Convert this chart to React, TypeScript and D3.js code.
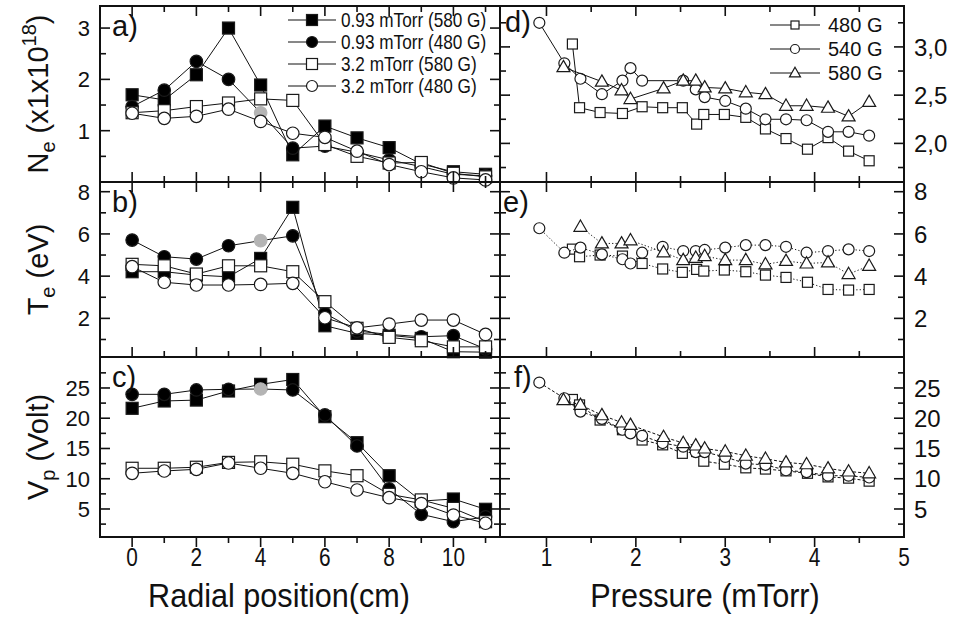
import React from "react";
import * as d3 from "d3";

// ---------------- DATA: left column (radial profiles) ----------------
const radialPositions = [0, 1, 2, 3, 4, 5, 6, 7, 8, 9, 10, 11];
const leftSeriesLabels = ["0.93 mTorr (580 G)", "0.93 mTorr (480 G)", "3.2 mTorr (580 G)", "3.2 mTorr (480 G)"];

// a) electron density (x1e18)
const neLow580 = [1.7, 1.6, 2.09, 3.0, 1.89, 0.53, 1.09, 0.86, 0.67, 0.35, 0.2, 0.15];
const neLow480 = [1.47, 1.79, 2.35, 2.0, 1.35, 0.66, 0.7, 0.58, 0.43, 0.3, 0.15, 0.12];
const neHigh580 = [1.35, 1.39, 1.47, 1.54, 1.62, 1.59, 0.73, 0.5, 0.37, 0.38, 0.17, 0.1];
const neHigh480 = [1.34, 1.24, 1.28, 1.42, 1.18, 0.95, 0.87, 0.6, 0.34, 0.2, 0.08, 0.04];

// b) electron temperature (eV)
const teLow580 = [4.21, 4.21, 4.05, 3.97, 4.84, 7.26, 1.65, 1.29, 1.2, 1.05, 0.42, 0.4];
const teLow480 = [5.71, 4.92, 4.81, 5.44, 5.68, 5.91, 2.24, 1.4, 1.24, 1.13, 1.18, 0.55];
const teHigh580 = [4.56, 4.49, 4.1, 4.49, 4.49, 4.21, 2.79, 1.53, 1.1, 0.94, 0.65, 0.65];
const teHigh480 = [4.45, 3.71, 3.58, 3.58, 3.61, 3.66, 2.03, 1.55, 1.73, 1.92, 1.92, 1.24];

// c) plasma potential (V)
const vpLow580 = [21.64, 22.85, 23.0, 24.5, 25.6, 26.4, 20.26, 15.96, 10.5, 6.3, 6.65, 4.95];
const vpLow480 = [23.95, 23.95, 24.67, 24.78, 24.83, 24.67, 20.54, 15.41, 8.31, 4.12, 2.9, 3.7];
const vpHigh580 = [11.73, 11.73, 11.9, 12.7, 12.8, 12.4, 11.3, 10.5, 7.43, 6.5, 5.1, 2.9];
const vpHigh480 = [10.9, 11.28, 11.56, 12.6, 11.73, 10.9, 9.5, 8.14, 6.87, 5.9, 4.0, 2.64];

// point drawn in grey (series index 1, radial index 4)
const greySeries = 1;
const greyIndex = 4;

// ---------------- DATA: right column (pressure scans) ----------------
const rightSeriesLabels = ["480 G", "540 G", "580 G"];
const pressure480 = [1.29, 1.37, 1.6, 1.85, 2.07, 2.3, 2.52, 2.68, 2.76, 2.99, 3.23, 3.45, 3.68, 3.92, 4.15, 4.38, 4.61];
const pressure540 = [0.92, 1.2, 1.38, 1.62, 1.85, 1.94, 2.07, 2.3, 2.53, 2.67, 2.77, 3.0, 3.23, 3.45, 3.68, 3.91, 4.15, 4.38, 4.61];
const pressure580 = [1.19, 1.38, 1.62, 1.84, 1.94, 2.31, 2.53, 2.67, 2.77, 3.0, 3.23, 3.45, 3.68, 3.91, 4.15, 4.38, 4.61];

// d) density
const nePr480 = [3.03, 2.37, 2.32, 2.31, 2.38, 2.37, 2.37, 2.2, 2.3, 2.3, 2.27, 2.15, 2.05, 1.94, 2.06, 1.92, 1.82];
const nePr540 = [3.25, 2.83, 2.67, 2.51, 2.65, 2.78, 2.65, null, 2.65, 2.56, 2.48, 2.44, 2.36, 2.25, 2.25, 2.24, 2.12, 2.12, 2.08];
const nePr580 = [2.79, null, 2.64, 2.55, 2.46, 2.57, 2.65, 2.65, 2.58, 2.57, 2.53, 2.51, 2.39, 2.39, 2.37, 2.28, 2.43];

// e) temperature
const tePr480 = [5.28, 4.92, 5.0, 4.95, 4.6, 4.34, 4.18, 4.32, 4.24, 4.29, 4.21, 4.05, 3.94, 3.71, 3.37, 3.34, 3.37];
const tePr540 = [6.27, 5.11, 5.35, 5.03, 4.8, 4.6, 5.11, 5.39, 5.19, 5.19, 5.24, 5.35, 5.47, 5.47, 5.39, 5.11, 5.19, 5.27, 5.19];
const tePr580 = [null, 6.34, 5.55, 5.55, 5.7, 5.13, 4.76, 4.87, 4.95, 4.76, 4.76, 4.56, 4.72, 4.6, 4.65, 4.1, 4.49];

// f) potential
const vpPr480 = [23.1, 22.2, 19.7, 18.1, 16.4, 15.6, 14.2, 14.5, 12.9, 12.4, 11.8, 11.6, 11.3, 10.9, 10.3, 10.1, 9.6];
const vpPr540 = [25.9, 23.3, 21.1, 19.9, 18.1, 17.5, 17.1, 15.9, 15.3, 14.4, 14.4, 13.6, 12.5, 12.3, 11.4, 11.1, 10.5, 10.5, 10.2];
const vpPr580 = [23.0, 22.2, 20.5, 19.3, 18.9, 16.9, 15.9, 15.5, 15.0, 14.5, 13.8, 13.3, 12.7, 12.4, 11.7, 11.2, 10.9];

// tick labels
const radialTickLabels = [0, 2, 4, 6, 8, 10];
const pressureTickLabels = [1, 2, 3, 4, 5];
const neTicks = [1, 2, 3];
const neRightTicks = [2.0, 2.5, 3.0];
const teTicks = [2, 4, 6, 8];
const vpTicks = [5, 10, 15, 20, 25];

// ---------------- LAYOUT ----------------
const W = 955;
const H = 618;
const FONT = "'Liberation Sans', Arial, Helvetica, sans-serif";
const LX0 = 100, MX = 500, RX1 = 904;
const ROWS: [number, number][] = [[6, 182], [182, 357], [357, 537]];

const xL = d3.scaleLinear().domain([-1, 11.45]).range([LX0, MX]);
const xR = d3.scaleLinear().domain([0.48, 5]).range([MX, RX1]);
const yA = d3.scaleLinear().domain([0, 3.43]).range([ROWS[0][1], ROWS[0][0]]);
const yD = d3.scaleLinear().domain([1.6, 3.424]).range([ROWS[0][1], ROWS[0][0]]);
const yB = d3.scaleLinear().domain([0.17, 8.46]).range([ROWS[1][1], ROWS[1][0]]);
const yC = d3.scaleLinear().domain([0.37, 30.12]).range([ROWS[2][1], ROWS[2][0]]);

type Shape = "square" | "circle" | "triangle";

function Marker({ shape, x, y, size, fill, stroke }: { shape: Shape; x: number; y: number; size: number; fill: string; stroke: string }) {
  if (shape === "square") {
    return <rect x={x - size / 2} y={y - size / 2} width={size} height={size} fill={fill} stroke={stroke} strokeWidth={1.2} />;
  }
  if (shape === "circle") {
    return <circle cx={x} cy={y} r={size / 2} fill={fill} stroke={stroke} strokeWidth={1.2} />;
  }
  const h = size * 0.87;
  const p = d3.path();
  p.moveTo(x, y - h * 0.6);
  p.lineTo(x + size / 2, y + h * 0.4);
  p.lineTo(x - size / 2, y + h * 0.4);
  p.closePath();
  return <path d={p.toString()} fill={fill} stroke={stroke} strokeWidth={1.2} />;
}

type Series = { xs: number[]; ys: (number | null)[]; shape: Shape; filled: boolean; dash?: string; lw: number; size: number; grey?: number };

function SeriesG({ s, xs, ys }: { s: Series; xs: d3.ScaleLinear<number, number>; ys: d3.ScaleLinear<number, number> }) {
  const pts = s.xs.map((x, i) => ({ x, y: s.ys[i], i })).filter((p) => p.y !== null) as { x: number; y: number; i: number }[];
  const line = d3.line<{ x: number; y: number }>().x((d) => xs(d.x)).y((d) => ys(d.y));
  return (
    <g>
      <path d={line(pts) || ""} fill="none" stroke="#111" strokeWidth={s.lw} strokeDasharray={s.dash} />
      {pts.map((p) => {
        const isGrey = s.grey === p.i;
        const fill = isGrey ? "#b4b4b4" : s.filled ? "#000" : "#fff";
        const stroke = isGrey ? "#b4b4b4" : "#1a1a1a";
        return <Marker key={p.i} shape={s.shape} x={xs(p.x)} y={ys(p.y)} size={s.size} fill={fill} stroke={stroke} />;
      })}
    </g>
  );
}

function leftSeries(vals: number[][]): Series[] {
  const shapes: Shape[] = ["square", "circle", "square", "circle"];
  const filled = [true, true, false, false];
  const sizes = [12, 12.5, 12, 12.5];
  return vals.map((v, k) => ({
    xs: radialPositions, ys: v, shape: shapes[k], filled: filled[k], lw: 1, size: sizes[k],
    grey: k === greySeries ? greyIndex : undefined,
  }));
}

function rightSeries(vals: (number | null)[][], dash?: string): Series[] {
  const xsArr = [pressure480, pressure540, pressure580];
  const shapes: Shape[] = ["square", "circle", "triangle"];
  const sizes = [10, 11, 13];
  return vals.map((v, k) => ({ xs: xsArr[k], ys: v, shape: shapes[k], filled: false, dash, lw: 1, size: sizes[k] }));
}

function Frame({ x0, x1, y0, y1 }: { x0: number; x1: number; y0: number; y1: number }) {
  return <rect x={x0} y={y0} width={x1 - x0} height={y1 - y0} fill="none" stroke="#111" strokeWidth={2} />;
}

function SText({ x, y, sx, size, anchor, children }: { x: number; y: number; sx: number; size: number; anchor?: string; children: React.ReactNode }) {
  return (
    <text transform={`translate(${x},${y}) scale(${sx},1)`} textAnchor={anchor || "start"} fontFamily={FONT} fontSize={size} fill="#111">
      {children}
    </text>
  );
}

export default function App() {
  const panelsL = [
    { ys: yA, series: leftSeries([neLow580, neLow480, neHigh580, neHigh480]) },
    { ys: yB, series: leftSeries([teLow580, teLow480, teHigh580, teHigh480]) },
    { ys: yC, series: leftSeries([vpLow580, vpLow480, vpHigh580, vpHigh480]) },
  ];
  const panelsR = [
    { ys: yD, series: rightSeries([nePr480, nePr540, nePr580]) },
    { ys: yB, series: rightSeries([tePr480, tePr540, tePr580], "1.2,2.2") },
    { ys: yC, series: rightSeries([vpPr480, vpPr540, vpPr580], "3,2") },
  ];

  const major = 10, minor = 6;
  const tickEls: JSX.Element[] = [];
  let key = 0;
  const vt = (x: number, y0: number, y1: number) =>
    tickEls.push(<line key={key++} x1={x} x2={x} y1={y0} y2={y1} stroke="#111" strokeWidth={1.6} />);
  const ht = (y: number, x0: number, x1: number) =>
    tickEls.push(<line key={key++} x1={x0} x2={x1} y1={y} y2={y} stroke="#111" strokeWidth={1.6} />);

  const lxMajor = d3.range(0, 11, 2), lxMinor = d3.range(1, 12, 2);
  const rxMajor = [1, 2, 3, 4], rxMinor = [1.5, 2.5, 3.5, 4.5];
  ROWS.forEach(([top, bot], r) => {
    const doTop = r < 2;
    const put = (x: number, len: number) => {
      if (doTop) vt(x, top, top + len);
      if (r < 2) vt(x, bot, bot - len); else vt(x, bot, bot + len);
    };
    lxMajor.forEach((v) => put(xL(v), major));
    lxMinor.forEach((v) => put(xL(v), minor));
    rxMajor.forEach((v) => put(xR(v), major));
    rxMinor.forEach((v) => put(xR(v), minor));
  });
  const yTickSets = [
    { ys: yA, maj: neTicks, min: [0.5, 1.5, 2.5], col: "L" },
    { ys: yB, maj: teTicks, min: [1, 3, 5, 7], col: "L" },
    { ys: yC, maj: vpTicks, min: [2.5, 7.5, 12.5, 17.5, 22.5, 27.5], col: "L" },
    { ys: yD, maj: neRightTicks, min: [1.75, 2.25, 2.75, 3.25], col: "R" },
    { ys: yB, maj: teTicks, min: [1, 3, 5, 7], col: "R" },
    { ys: yC, maj: vpTicks, min: [2.5, 7.5, 12.5, 17.5, 22.5, 27.5], col: "R" },
  ];
  yTickSets.forEach((t) => {
    const [a, b] = t.col === "L" ? [LX0, MX] : [MX, RX1];
    t.maj.forEach((v) => { ht(t.ys(v), a, a + major); ht(t.ys(v), b, b - major); });
    t.min.forEach((v) => { ht(t.ys(v), a, a + minor); ht(t.ys(v), b, b - minor); });
  });

  const tickFont = { fontFamily: FONT, fontSize: 22, fill: "#111" };
  const panelLab = { fontFamily: FONT, fontSize: 29, fill: "#111" };

  return (
    <svg width={W} height={H} style={{ position: "absolute", left: 0, top: 0, background: "#fff" }}>
      <rect x={0} y={0} width={W} height={H} fill="#fff" />
      {panelsL.map((p, i) => (
        <g key={"L" + i}>{p.series.map((s, k) => <SeriesG key={k} s={s} xs={xL} ys={p.ys} />)}</g>
      ))}
      {panelsR.map((p, i) => (
        <g key={"R" + i}>{p.series.map((s, k) => <SeriesG key={k} s={s} xs={xR} ys={p.ys} />)}</g>
      ))}
      {ROWS.map(([t, b], i) => (
        <g key={"f" + i}>
          <Frame x0={LX0} x1={MX} y0={t} y1={b} />
          <Frame x0={MX} x1={RX1} y0={t} y1={b} />
        </g>
      ))}
      {tickEls}

      {/* y tick labels */}
      {neTicks.map((v) => <text key={"na" + v} x={90} y={yA(v)} dy="0.36em" textAnchor="end" {...tickFont}>{v}</text>)}
      {teTicks.map((v) => <text key={"ta" + v} x={90} y={yB(v)} dy="0.36em" textAnchor="end" {...tickFont}>{v}</text>)}
      {vpTicks.map((v) => <text key={"va" + v} x={90} y={yC(v)} dy="0.36em" textAnchor="end" {...tickFont}>{v}</text>)}
      {neRightTicks.map((v) => <text key={"nd" + v} x={914} y={yD(v)} dy="0.36em" {...tickFont} fontSize={24}>{v.toFixed(1).replace(".", ",")}</text>)}
      {teTicks.map((v) => <text key={"te" + v} x={914} y={yB(v)} dy="0.36em" {...tickFont} fontSize={24}>{v}</text>)}
      {vpTicks.map((v) => <text key={"vf" + v} x={914} y={yC(v)} dy="0.36em" {...tickFont} fontSize={24}>{v}</text>)}

      {/* x tick labels (condensed) */}
      {radialTickLabels.map((v) => <SText key={"rx" + v} x={xL(v)} y={566} sx={0.8} size={26} anchor="middle">{v}</SText>)}
      {pressureTickLabels.map((v) => <SText key={"px" + v} x={xR(v)} y={566} sx={0.8} size={26} anchor="middle">{v}</SText>)}

      {/* axis titles */}
      <SText x={279} y={607} sx={0.9} size={34} anchor="middle">Radial position(cm)</SText>
      <SText x={705} y={607} sx={0.9} size={34} anchor="middle">Pressure (mTorr)</SText>

      <text transform={`translate(48,${(ROWS[0][0] + ROWS[0][1]) / 2}) rotate(-90)`} textAnchor="middle" fontFamily={FONT} fontSize={29} fill="#111">
        N<tspan fontSize={20} dy={7}>e</tspan><tspan dy={-7}> (x1x10</tspan><tspan fontSize={20} dy={-12}>18</tspan><tspan dy={12}>)</tspan>
      </text>
      <text transform={`translate(48,${(ROWS[1][0] + ROWS[1][1]) / 2}) rotate(-90)`} textAnchor="middle" fontFamily={FONT} fontSize={29} fill="#111">
        T<tspan fontSize={20} dy={7}>e</tspan><tspan dy={-7}> (eV)</tspan>
      </text>
      <text transform={`translate(48,${(ROWS[2][0] + ROWS[2][1]) / 2}) rotate(-90)`} textAnchor="middle" fontFamily={FONT} fontSize={29} fill="#111">
        V<tspan fontSize={20} dy={7}>p</tspan><tspan dy={-7}> (Volt)</tspan>
      </text>

      {/* panel labels */}
      <text x={112} y={36} {...panelLab}>a)</text>
      <text x={112} y={212} {...panelLab}>b)</text>
      <text x={112} y={387} {...panelLab}>c)</text>
      <text x={505} y={32} {...panelLab}>d)</text>
      <text x={503} y={212} {...panelLab}>e)</text>
      <text x={514} y={387} {...panelLab}>f)</text>

      {/* legend a */}
      {leftSeriesLabels.map((lab, k) => {
        const y = 20 + k * 22;
        const shapes: Shape[] = ["square", "circle", "square", "circle"];
        const filled = k < 2;
        return (
          <g key={"lga" + k}>
            <line x1={288} x2={336} y1={y} y2={y} stroke="#111" strokeWidth={1} />
            <Marker shape={shapes[k]} x={312} y={y} size={11} fill={filled ? "#000" : "#fff"} stroke="#1a1a1a" />
            <SText x={341} y={y + 7} sx={0.86} size={20}>{lab}</SText>
          </g>
        );
      })}
      {/* legend d */}
      {rightSeriesLabels.map((lab, k) => {
        const y = 25 + k * 24;
        const shapes: Shape[] = ["square", "circle", "triangle"];
        const sizes = [8, 9, 11];
        return (
          <g key={"lgd" + k}>
            <line x1={770} x2={820} y1={y} y2={y} stroke="#111" strokeWidth={1} />
            <Marker shape={shapes[k]} x={795} y={y} size={sizes[k]} fill="#fff" stroke="#1a1a1a" />
            <text x={828} y={y} dy="0.36em" fontFamily={FONT} fontSize={20} fill="#111">{lab}</text>
          </g>
        );
      })}
    </svg>
  );
}
